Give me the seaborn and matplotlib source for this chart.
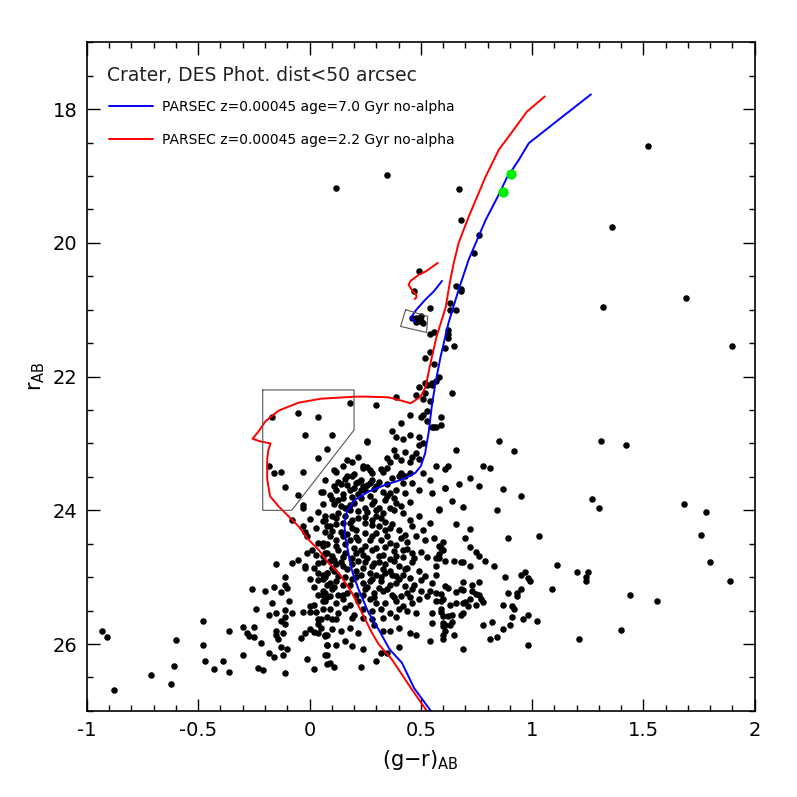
import matplotlib
matplotlib.use("Agg")
import matplotlib.pyplot as plt
import seaborn as sns
import pandas as pd
from matplotlib.ticker import MultipleLocator, FuncFormatter

# stars within 50 arcsec, (g-r) colour and r magnitude
star_gr = [
    # bright / sparse part
    1.52, 0.35, 0.12, 0.67, 0.68, 0.76, 0.74, 1.36, 1.69, 1.32, 1.90,
    0.49, 0.66, 0.68, 0.68, 0.47, 0.63, 0.63, 0.66, 0.54,
    0.46, 0.48, 0.50, 0.49, 0.50, 0.51, 0.48,
    0.54, 0.56, 0.62, 0.62, 0.62, 0.65, 0.61, 0.54, 0.52, 0.56, 0.58, 0.57, 0.52, 0.53,
    0.55, 0.55, 0.49, 0.48, 0.52, 0.64, 0.39, 0.30, 0.51, 0.54, 0.53, 0.51, 0.50, 0.45,
    0.59, 0.53, 0.41, 0.55, 0.56, 0.57, 0.59, 0.37, 0.39, 0.42, 0.45, 0.49,
    0.18, -0.17, -0.05, 0.04, -0.02, 0.10, 0.26,
    # turnoff, blue side
    -0.18, -0.16, -0.13, -0.03, 0.04, 0.08, -0.11, -0.05, -0.03, -0.03, 0.05, 0.06, 0.04,
    0.07, -0.08, 0.00, 0.06, 0.08, -0.03, -0.02, 0.03, 0.07, -0.01, 0.04, 0.06, 0.01,
    -0.01, 0.03, 0.06, 0.08,
    # faint blue side
    -0.15, -0.08, -0.05, -0.02, -0.02, 0.02, 0.04, 0.04, 0.06, 0.08, 0.00, 0.04, -0.11,
    0.08, 0.02, -0.16, -0.11, -0.10, -0.13, -0.20, -0.26, 0.04, 0.06, 0.07, 0.08, 0.06,
    -0.09, -0.17, 0.00, 0.02, -0.24, -0.11, -0.03, 0.00, 0.03, -0.08, -0.15, -0.18, -0.11,
    0.04, -0.13, 0.08, -0.48, -0.11, 0.04, -0.30, -0.25, -0.28, -0.27, -0.25, -0.36, -0.15,
    -0.12, -0.15, -0.14, 0.00, 0.02, 0.04, 0.07, 0.08, -0.04, -0.02, -0.22, -0.48, 0.08,
    -0.13, -0.10, -0.30, -0.18, -0.16, -0.12, 0.08, -0.01, -0.47, -0.39, 0.08, -0.23,
    -0.21, -0.43, -0.36, 0.02, -0.11,
    -0.93, -0.91, -0.60, -0.71, -0.61, -0.62, -0.88,
    # dense core, upper
    0.26, 0.49, 0.51, 0.38, 0.43, 0.48, 0.39, 0.46, 0.35, 0.22, 0.19, 0.17, 0.15, 0.11,
    0.12, 0.36, 0.41, 0.45, 0.49, 0.57, 0.62, 0.32, 0.33, 0.35, 0.24, 0.24, 0.26, 0.27,
    0.28, 0.20, 0.19, 0.17, 0.16, 0.13, 0.11, 0.07, 0.06, 0.09, 0.10, 0.13, 0.15, 0.18,
    0.21, 0.22, 0.23, 0.24, 0.25, 0.27, 0.28, 0.30, 0.33, 0.36, 0.39, 0.42, 0.43, 0.45,
    0.40, 0.41, 0.49, 0.55, 0.61, 0.58, 0.54, 0.49, 0.45, 0.42, 0.39, 0.34, 0.36, 0.31,
    0.28, 0.25, 0.23, 0.20, 0.18, 0.16, 0.13, 0.10, 0.07, 0.09, 0.12, 0.15, 0.18, 0.19,
    0.21, 0.25, 0.28, 0.31, 0.34, 0.37, 0.40, 0.43, 0.48, 0.52, 0.56, 0.58, 0.60, 0.57,
    0.46, 0.42, 0.39, 0.31, 0.28, 0.25, 0.22, 0.18, 0.15, 0.12, 0.09, 0.06, 0.07, 0.10,
    0.13, 0.16, 0.19, 0.21, 0.24, 0.33, 0.36, 0.39, 0.32, 0.28, 0.25, 0.30, 0.32, 0.22,
    0.45, 0.43, 0.46, 0.51, 0.54,
    # dense core, lower
    0.06, 0.09, 0.12, 0.14, 0.22, 0.25, 0.28, 0.31, 0.34, 0.38, 0.40, 0.43, 0.46, 0.49,
    0.57, 0.08, 0.11, 0.13, 0.17, 0.21, 0.23, 0.27, 0.30, 0.34, 0.36, 0.39, 0.42, 0.45,
    0.52, 0.57, 0.06, 0.09, 0.12, 0.15, 0.19, 0.24, 0.27, 0.32, 0.36, 0.39, 0.43, 0.47,
    0.54, 0.57, 0.61, 0.06, 0.10, 0.13, 0.17, 0.21, 0.25, 0.29, 0.33, 0.37, 0.41, 0.44,
    0.49, 0.53, 0.57, 0.60, 0.07, 0.12, 0.15, 0.18, 0.22, 0.27, 0.30, 0.34, 0.39, 0.42,
    0.46, 0.06, 0.09, 0.13, 0.16, 0.20, 0.24, 0.28, 0.32, 0.36, 0.40, 0.44, 0.48, 0.55,
    0.59, 0.62, 0.05, 0.10, 0.12, 0.19, 0.24, 0.28, 0.33, 0.39, 0.55, 0.61, 0.05, 0.07,
    0.10, 0.14, 0.18, 0.22, 0.29, 0.33, 0.36, 0.40, 0.45, 0.48, 0.54, 0.60, 0.08, 0.12,
    0.16, 0.19, 0.24, 0.35, 0.40, 0.32, 0.07, 0.09, 0.11, 0.23, 0.30,
    # red side of the core
    0.85, 0.66, 0.92, 0.78, 0.81, 0.61, 0.72, 0.67, 0.76, 0.61, 0.87, 0.95, 0.64, 0.69,
    0.58, 0.84, 0.66, 0.72, 0.70, 0.89, 1.03, 0.60, 0.59, 0.72, 0.75, 0.76, 0.58, 0.58,
    0.61, 0.65, 0.68, 0.69, 0.72, 0.79, 0.83, 1.11, 0.88, 0.95, 0.97, 0.98, 0.99, 1.09,
    0.95, 0.89, 0.93, 0.93, 0.69, 0.73, 0.76, 0.62, 0.66, 0.68, 0.69, 0.73, 0.75, 0.76,
    0.59, 0.72, 0.77, 0.78, 0.59, 0.63, 0.66, 0.69, 0.70, 0.71, 0.75, 0.87, 0.91, 0.92,
    0.59, 0.60, 0.64, 0.69, 0.68, 0.91, 0.98, 0.96, 1.02, 0.64, 0.63, 0.60, 0.60, 0.82,
    0.78, 0.90, 0.87, 0.61, 0.60, 0.65, 0.81, 0.84, 0.69, 0.98,
    # far red field stars
    1.31, 1.42, 1.27, 1.30, 1.68, 1.78, 1.76, 1.80, 1.89, 1.20, 1.25, 1.24, 1.24, 1.44,
    1.56, 1.40, 1.21,
]
star_r = [
    18.55, 18.99, 19.18, 19.19, 19.66, 19.88, 20.15, 19.76, 20.82, 20.96, 21.54,
    20.42, 20.64, 20.69, 20.72, 20.72, 20.90, 21.00, 21.00, 20.97,
    21.13, 21.12, 21.10, 21.17, 21.17, 21.20, 21.19,
    21.37, 21.34, 21.31, 21.37, 21.43, 21.54, 21.58, 21.63, 21.72, 21.81, 22.00, 22.07, 22.09, 22.13,
    22.10, 22.13, 22.16, 22.27, 22.24, 22.25, 22.30, 22.42, 22.33, 22.37, 22.52, 22.58, 22.60, 22.58,
    22.60, 22.67, 22.70, 22.76, 22.76, 22.75, 22.73, 22.82, 22.90, 22.94, 22.87, 22.91,
    22.40, 22.60, 22.55, 22.61, 22.88, 22.87, 22.97,
    23.33, 23.44, 23.43, 23.43, 23.22, 23.08, 23.65, 23.77, 23.92, 23.97, 23.73, 23.90, 24.03,
    24.09, 24.14, 24.13, 24.16, 24.23, 24.24, 24.33, 24.27, 24.32, 24.39, 24.49, 24.54, 24.59,
    24.64, 24.67, 24.69, 24.64,
    24.80, 24.79, 24.75, 24.86, 24.83, 24.86, 24.79, 24.93, 24.96, 24.93, 25.03, 25.04, 25.00,
    25.11, 25.14, 25.15, 25.12, 25.16, 25.22, 25.20, 25.17, 25.26, 25.27, 25.23, 25.30, 25.35,
    25.35, 25.38, 25.43, 25.42, 25.47, 25.49, 25.52, 25.52, 25.52, 25.54, 25.54, 25.57, 25.59,
    25.63, 25.65, 25.60, 25.65, 25.70, 25.70, 25.75, 25.75, 25.83, 25.88, 25.90, 25.81, 25.81,
    25.83, 25.87, 25.93, 25.78, 25.82, 25.84, 25.88, 25.87, 25.91, 25.84, 25.98, 26.02, 26.02,
    26.05, 26.08, 26.17, 26.13, 26.20, 26.16, 26.16, 26.23, 26.25, 26.25, 26.30, 26.36,
    26.39, 26.38, 26.42, 26.38, 26.44,
    25.81, 25.90, 25.94, 26.46, 26.33, 26.59, 26.69,
    22.98, 23.03, 23.00, 23.10, 23.13, 23.14, 23.19, 23.20, 23.22, 23.20, 23.27, 23.25, 23.33, 23.39,
    23.42, 23.28, 23.25, 23.28, 23.24, 23.34, 23.33, 23.38, 23.42, 23.36, 23.33, 23.37, 23.35, 23.40,
    23.44, 23.45, 23.49, 23.48, 23.53, 23.57, 23.64, 23.54, 23.73, 23.77, 23.83, 23.85, 23.82, 23.69,
    23.59, 23.58, 23.54, 23.64, 23.69, 23.59, 23.54, 23.64, 23.72, 23.74, 23.69, 23.59, 23.49, 23.44,
    23.49, 23.44, 23.69, 23.74, 23.67, 23.98, 24.19, 24.09, 24.14, 24.04, 23.89, 23.84, 23.96, 23.96,
    23.91, 23.96, 23.81, 23.89, 23.99, 23.96, 24.04, 24.09, 24.14, 24.24, 24.21, 24.19, 24.19, 24.27,
    24.29, 24.19, 24.14, 24.24, 24.29, 24.21, 24.29, 24.37, 24.39, 24.44, 24.42, 24.54, 24.59, 24.72,
    24.64, 24.59, 24.69, 24.69, 24.59, 24.54, 24.44, 24.44, 24.39, 24.44, 24.39, 24.49, 24.64, 24.69,
    24.59, 24.64, 24.72, 24.64, 24.67, 24.67, 24.49, 24.52, 24.44, 24.39, 24.34, 24.09, 24.12, 24.12,
    23.87, 23.74, 23.59, 23.44, 23.54,
    24.78, 24.76, 24.81, 24.77, 24.76, 24.78, 24.83, 24.77, 24.81, 24.76, 24.83, 24.88, 24.78, 24.91,
    24.83, 24.93, 24.91, 24.98, 24.88, 24.91, 24.96, 24.93, 24.96, 24.93, 24.91, 24.98, 24.96, 25.01,
    24.98, 24.96, 25.03, 25.08, 25.06, 25.11, 25.03, 25.08, 25.06, 25.06, 25.11, 25.08, 25.13, 25.11,
    25.21, 25.23, 25.13, 25.21, 25.18, 25.26, 25.23, 25.26, 25.18, 25.23, 25.21, 25.26, 25.28, 25.23,
    25.33, 25.28, 25.36, 25.33, 25.36, 25.38, 25.33, 25.41, 25.36, 25.33, 25.38, 25.38, 25.36, 25.43,
    25.38, 25.48, 25.48, 25.53, 25.46, 25.56, 25.48, 25.51, 25.48, 25.53, 25.48, 25.51, 25.53, 25.53,
    25.48, 25.58, 25.63, 25.63, 25.62, 25.61, 25.61, 25.63, 25.61, 25.59, 25.68, 25.71, 25.76, 25.86,
    25.78, 25.81, 25.76, 25.83, 25.71, 25.81, 25.81, 25.76, 25.84, 25.87, 25.96, 25.93, 26.02, 26.01,
    25.95, 26.03, 26.07, 26.13, 26.04, 26.14, 26.16, 26.29, 26.34, 26.34, 26.26,
    22.96, 23.10, 23.12, 23.33, 23.36, 23.38, 23.52, 23.61, 23.63, 23.67, 23.68, 23.78, 23.86, 23.95,
    23.99, 24.00, 24.21, 24.28, 24.42, 24.42, 24.38, 24.48, 24.56, 24.55, 24.62, 24.69, 24.66, 24.71,
    24.76, 24.76, 24.78, 24.78, 24.83, 24.76, 24.83, 24.82, 24.99, 24.97, 24.92, 25.01, 25.06, 25.18,
    25.17, 25.24, 25.28, 25.24, 25.07, 25.12, 25.07, 25.16, 25.22, 25.18, 25.19, 25.21, 25.25, 25.27,
    25.25, 25.32, 25.32, 25.37, 25.36, 25.41, 25.39, 25.38, 25.37, 25.43, 25.42, 25.42, 25.43, 25.47,
    25.52, 25.58, 25.56, 25.53, 25.56, 25.59, 25.56, 25.62, 25.65, 25.67, 25.71, 25.68, 25.73, 25.67,
    25.72, 25.71, 25.77, 25.81, 25.87, 25.86, 25.92, 25.89, 26.07, 26.02,
    22.97, 23.03, 23.83, 23.96, 23.90, 24.03, 24.37, 24.78, 25.05, 24.92, 24.92, 25.00, 25.05, 25.26,
    25.36, 25.79, 25.93,
]

# extra stars in the crowded main-sequence core
core_gr = [
    0.14, 0.17, 0.20, 0.23, 0.26, 0.29, 0.31, 0.35, 0.37, 0.12, 0.15, 0.19, 0.22, 0.27,
    0.29, 0.35, 0.38, 0.11, 0.14, 0.18, 0.22, 0.26, 0.30, 0.33, 0.38, 0.41, 0.12, 0.16,
    0.19, 0.25, 0.28, 0.34, 0.36, 0.46, 0.51, 0.10, 0.14, 0.17, 0.21, 0.27, 0.30, 0.35,
    0.41, 0.44, 0.08, 0.12, 0.16, 0.20, 0.23, 0.30, 0.34, 0.38, 0.44, 0.50, 0.11, 0.15,
    0.26, 0.29, 0.36, 0.42, 0.47, 0.53, 0.10, 0.15, 0.19, 0.24, 0.33, 0.37, 0.44, 0.07,
    0.16, 0.21, 0.28, 0.32, 0.40, 0.50, 0.55, 0.11, 0.18, 0.26, 0.31, 0.35, 0.46, 0.50,
    0.09, 0.15, 0.24, 0.29, 0.38, 0.45,
]
core_r = [
    23.60, 23.62, 23.66, 23.70, 23.62, 23.68, 23.58, 23.60, 23.52, 23.70, 23.76, 23.80, 23.76, 23.79,
    23.86, 23.79, 23.82, 23.91, 23.94, 23.92, 24.01, 24.03, 24.00, 24.04, 24.00, 23.94, 24.12, 24.09,
    24.14, 24.10, 24.22, 24.17, 24.26, 24.24, 24.30, 24.31, 24.33, 24.36, 24.40, 24.45, 24.34, 24.38,
    24.42, 24.48, 24.50, 24.53, 24.51, 24.56, 24.60, 24.57, 24.55, 24.61, 24.58, 24.62, 24.74, 24.70,
    24.72, 24.79, 24.73, 24.70, 24.72, 24.70, 24.86, 24.84, 24.80, 24.87, 24.88, 24.96, 24.86, 25.00,
    24.99, 25.00, 25.02, 24.99, 25.02, 25.04, 25.08, 25.15, 25.12, 25.14, 25.16, 25.18, 25.17, 25.20,
    25.28, 25.27, 25.26, 25.30, 25.30, 25.30,
]

# two highlighted stars (green)
green_gr = [0.903, 0.871]
green_r = [18.97, 19.24]

# PARSEC isochrone, z=0.00045, 7.0 Gyr
iso7_gr = [1.264, 1.107, 0.985, 0.940, 0.886, 0.850, 0.791, 0.715, 0.670, 0.625, 0.589, 0.566,
           0.549, 0.535, 0.522, 0.520, 0.500, 0.475, 0.415, 0.340, 0.265, 0.205, 0.168, 0.157,
           0.160, 0.175, 0.180, 0.195, 0.220, 0.265, 0.310, 0.360, 0.415, 0.470, 0.545]
iso7_r = [17.78, 18.19, 18.51, 18.76, 19.03, 19.28, 19.66, 20.25, 20.70, 21.19, 21.70, 22.09,
          22.45, 22.84, 23.09, 23.14, 23.34, 23.44, 23.54, 23.62, 23.72, 23.84, 24.02, 24.19,
          24.39, 24.64, 24.75, 24.95, 25.18, 25.53, 25.78, 26.08, 26.28, 26.66, 27.00]
iso7_hb_gr = [0.595, 0.560, 0.520, 0.480, 0.455, 0.476]
iso7_hb_r = [20.57, 20.72, 20.85, 21.00, 21.12, 21.18]

# PARSEC isochrone, z=0.00045, 2.2 Gyr
iso2_gr = [1.057, 0.976, 0.917, 0.850, 0.791, 0.715, 0.670, 0.648, 0.630, 0.612, 0.571, 0.544,
           0.522, 0.499, 0.454, 0.414, 0.355, 0.265, 0.207, 0.054, -0.049, -0.139, -0.198,
           -0.229, -0.256, -0.220, -0.175, -0.185, -0.190, -0.190, -0.177, -0.139, -0.094,
           -0.049, -0.004, 0.041, 0.086, 0.130, 0.190, 0.235, 0.280, 0.310, 0.370, 0.460, 0.527]
iso2_r = [17.81, 18.04, 18.31, 18.61, 19.01, 19.61, 20.00, 20.30, 20.60, 20.96, 21.40, 21.79,
          22.15, 22.30, 22.40, 22.36, 22.31, 22.30, 22.30, 22.33, 22.39, 22.51, 22.67,
          22.82, 22.93, 22.97, 23.00, 23.10, 23.24, 23.54, 23.79, 23.94, 24.09,
          24.24, 24.44, 24.59, 24.79, 24.93, 25.23, 25.53, 25.83, 26.00, 26.23, 26.68, 27.00]
iso2_hb_gr = [0.576, 0.526, 0.490, 0.454, 0.445, 0.459, 0.480, 0.480, 0.472]
iso2_hb_r = [20.30, 20.42, 20.48, 20.57, 20.63, 20.70, 20.78, 20.82, 20.84]

# selection boxes
box_to_gr = [-0.21, 0.20, 0.20, -0.08, -0.21, -0.21]
box_to_r = [22.20, 22.20, 22.80, 24.00, 24.00, 22.20]
box_rc_gr = [0.432, 0.531, 0.526, 0.409, 0.432]
box_rc_r = [21.00, 21.10, 21.34, 21.25, 21.00]

label7 = "PARSEC z=0.00045 age=7.0 Gyr no-alpha"
label2 = "PARSEC z=0.00045 age=2.2 Gyr no-alpha"

sns.set_style("ticks")
plt.rcParams['font.family'] = ['DejaVu Sans']
plt.rcParams['text.color'] = 'black'
plt.rcParams['axes.labelcolor'] = 'black'
plt.rcParams['xtick.color'] = 'black'
plt.rcParams['ytick.color'] = 'black'

fig = plt.figure(figsize=(7.97, 7.97), dpi=100)
ax = fig.add_axes([0.109, 0.108, 0.838, 0.839])

stars = pd.DataFrame({"gr": star_gr + core_gr, "r": star_r + core_r})
sns.scatterplot(data=stars, x="gr", y="r", color="black", s=22, linewidth=0, ax=ax)

sns.lineplot(x=iso7_gr, y=iso7_r, sort=False, estimator=None, color="#0000ff", lw=1.4,
             ax=ax, label=label7)
sns.lineplot(x=iso7_hb_gr, y=iso7_hb_r, sort=False, estimator=None, color="#0000ff", lw=1.4, ax=ax)
sns.lineplot(x=iso2_gr, y=iso2_r, sort=False, estimator=None, color="#ff0000", lw=1.4,
             ax=ax, label=label2)
sns.lineplot(x=iso2_hb_gr, y=iso2_hb_r, sort=False, estimator=None, color="#ff0000", lw=1.4, ax=ax)

ax.plot(box_to_gr, box_to_r, color="#555555", lw=0.8)
ax.plot(box_rc_gr, box_rc_r, color="#555555", lw=0.8)

sns.scatterplot(x=green_gr, y=green_r, color="#00ee00", s=55, linewidth=0, ax=ax, zorder=5)

ax.set_xlim(-1, 2)
ax.set_ylim(27, 17)
ax.xaxis.set_major_locator(MultipleLocator(0.5))
ax.xaxis.set_minor_locator(MultipleLocator(0.1))
ax.yaxis.set_major_locator(MultipleLocator(2))
ax.yaxis.set_minor_locator(MultipleLocator(0.5))
ax.xaxis.set_major_formatter(FuncFormatter(lambda v, p: f"{v:g}"))
ax.yaxis.set_major_formatter(FuncFormatter(lambda v, p: f"{v:g}"))
ax.tick_params(which="both", direction="in", top=True, right=True, width=1, labelsize=14)
ax.tick_params(which="major", length=9, pad=7)
ax.tick_params(which="minor", length=4.5)
for s in ax.spines.values():
    s.set_linewidth(1.2)
    s.set_color("black")

ax.set_xlabel(r"(g$-$r)$_{\rm AB}$", fontsize=15, labelpad=6)
ax.set_ylabel(r"r$_{\rm AB}$", fontsize=15, labelpad=4)

ax.text(0.03, 0.951, "Crater, DES Phot. dist<50 arcsec", transform=ax.transAxes,
        fontsize=13.5, va="center", ha="left", color="#222222")
ax.legend(loc="upper left", bbox_to_anchor=(0.033, 0.914), frameon=False, fontsize=10,
          handlelength=3.2, handletextpad=0.6, labelspacing=1.4, borderpad=0, borderaxespad=0)

fig.savefig("out.png", dpi=100)
